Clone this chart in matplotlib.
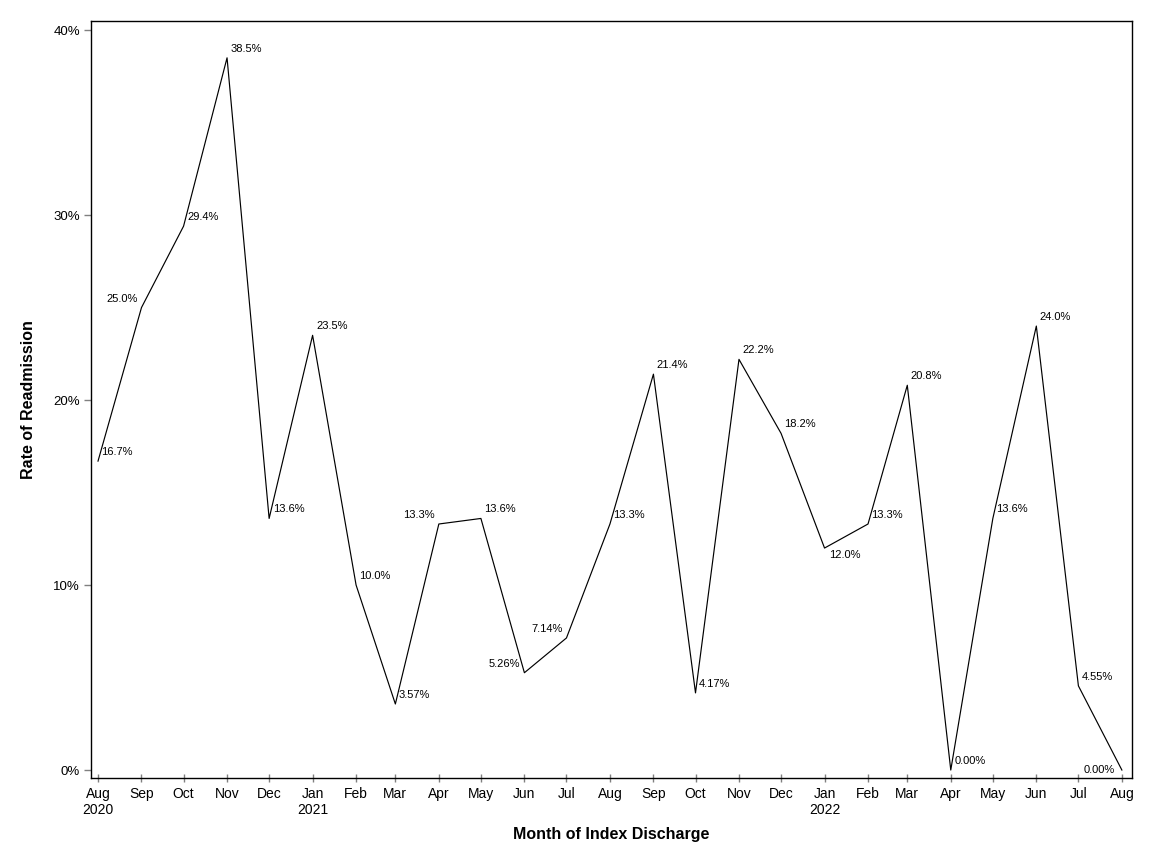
import datetime as dt
import matplotlib
matplotlib.use("Agg")
import matplotlib.pyplot as plt
from matplotlib.ticker import FuncFormatter

plt.rcParams['font.family'] = ['Liberation Sans', 'DejaVu Sans']

# monthly index discharges, Aug 2020 .. Aug 2022
months = [(2020, m) for m in range(8, 13)] + [(2021, m) for m in range(1, 13)] + [(2022, m) for m in range(1, 9)]
rates = [16.7, 25.0, 29.4, 38.5, 13.6, 23.5, 10.0, 3.57, 13.3, 13.6, 5.26, 7.14, 13.3,
         21.4, 4.17, 22.2, 18.2, 12.0, 13.3, 20.8, 0.00, 13.6, 24.0, 4.55, 0.00]
labels = ['16.7%', '25.0%', '29.4%', '38.5%', '13.6%', '23.5%', '10.0%', '3.57%', '13.3%',
          '13.6%', '5.26%', '7.14%', '13.3%', '21.4%', '4.17%', '22.2%', '18.2%', '12.0%',
          '13.3%', '20.8%', '0.00%', '13.6%', '24.0%', '4.55%', '0.00%']
# where each point label sits: r = right/above, l = left/above, rb = right/below, lc = left/centre
label_pos = ['r', 'l', 'r', 'r', 'r', 'r', 'r', 'r', 'l', 'r', 'l', 'l', 'r',
             'r', 'r', 'r', 'r', 'rb', 'r', 'r', 'r', 'r', 'r', 'r', 'lc']

dates = [dt.date(y, m, 1) for y, m in months]

fig = plt.figure(figsize=(11.52, 8.64), dpi=100)
ax = fig.add_axes([91 / 1152, 86 / 864, 1040.7 / 1152, 757 / 864])

ax.plot(dates, rates, color='black', lw=0.85)

offsets = {'r': ((2.5, 6.5), 'left', 'center'),
           'l': ((-3.0, 6.5), 'right', 'center'),
           'rb': ((3.0, -5.0), 'left', 'center'),
           'lc': ((-5.0, 0.0), 'right', 'center')}
for d, v, s, p in zip(dates, rates, labels, label_pos):
    off, ha, va = offsets[p]
    ax.annotate(s, (d, v), xytext=off, textcoords='offset points',
                ha=ha, va=va, fontsize=8)

ax.set_xlim(dt.date(2020, 7, 27), dt.date(2022, 8, 8))
ax.set_ylim(-0.43, 40.49)

ax.set_yticks([0, 10, 20, 30, 40])
ax.yaxis.set_major_formatter(FuncFormatter(lambda v, _: f'{v:.0f}%'))

ax.set_xticks(dates)
ax.set_xticklabels([d.strftime('%b') + ('\n' + str(d.year) if (d.month == 1 or i == 0) else '')
                    for i, d in enumerate(dates)])

ax.tick_params(axis='y', length=5, width=1, color='#808080', pad=3, labelsize=9.5)
ax.tick_params(axis='x', direction='inout', length=6, width=1, color='#808080', pad=3.5, labelsize=10)
for sp in ax.spines.values():
    sp.set_linewidth(1)

ax.set_xlabel('Month of Index Discharge', fontsize=11.5, fontweight='bold')
ax.set_ylabel('Rate of Readmission', fontsize=11.5, fontweight='bold')
ax.xaxis.set_label_coords(0.5, -0.065)
ax.yaxis.set_label_coords(-0.053, 0.5)

fig.savefig('out.png', dpi=100)
